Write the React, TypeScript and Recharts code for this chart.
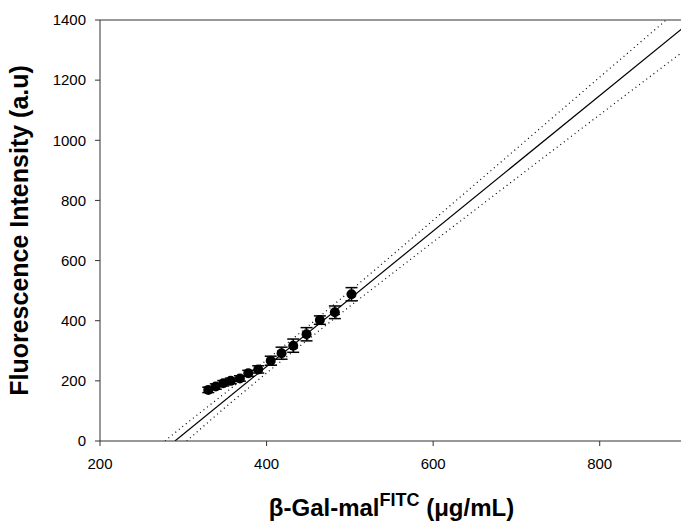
import { ComposedChart, Scatter, Line, XAxis, YAxis, ErrorBar, ReferenceLine, Label } from "recharts";

// measured points (mean ± error)
const concentration = [330, 339, 348, 357, 368, 378, 390, 405, 418, 432, 448, 464, 482, 502];
const intensity = [170, 181, 192, 200, 208, 225, 238, 267, 292, 317, 355, 402, 428, 488];
const intensityErr = [9, 9, 9, 9, 9, 10, 12, 15, 20, 22, 22, 14, 21, 22];

// regression line and its dotted confidence band
const fitX = [290, 900];
const fitY = [0, 1374];
const upperX = [278, 300, 350, 400, 450, 500, 600, 700, 800, 900];
const upperY = [0, 50, 159, 269, 382, 498, 734, 972, 1210, 1448];
const lowerX = [304, 350, 400, 450, 500, 600, 700, 800, 900];
const lowerY = [0, 111, 226, 338, 448, 662, 874, 1085, 1295];

const xTicks = [200, 400, 600, 800];
const yTicks = [0, 200, 400, 600, 800, 1000, 1200, 1400];

const FONT = "'Liberation Sans', Arial, sans-serif";
const AXIS = "#333";

const points = concentration.map((x, i) => ({ x, y: intensity[i], err: intensityErr[i] }));
const fit = fitX.map((x, i) => ({ x, y: fitY[i] }));
const upper = upperX.map((x, i) => ({ x, y: upperY[i] }));
const lower = lowerX.map((x, i) => ({ x, y: lowerY[i] }));

const Dot = (props: any) => <circle cx={props.cx} cy={props.cy} r={5} fill="#000" />;

const XTitle = (props: any) => {
  const vb = props.viewBox || { x: 100, y: 441, width: 583, height: 81 };
  const cx = vb.x + vb.width / 2;
  return (
    <text x={cx} y={vb.y + 75} textAnchor="middle" fontFamily={FONT} fontWeight="bold" fontSize={24} fill="#000" style={{ whiteSpace: "pre" }}>
      <tspan>β-Gal-mal</tspan>
      <tspan dy={-10} fontSize={18}>FITC</tspan>
      <tspan dy={10}> (μg/mL)</tspan>
    </text>
  );
};

const YTitle = (props: any) => {
  const vb = props.viewBox || { x: 0, y: 20, width: 100, height: 421 };
  const cy = vb.y + vb.height / 2;
  const cx = 19;
  return (
    <text x={cx} y={cy} transform={`rotate(-90 ${cx} ${cy})`} textAnchor="middle" dominantBaseline="central" fontFamily={FONT} fontWeight="bold" fontSize={25} fill="#000">
      Fluorescence Intensity (a.u)
    </text>
  );
};

export default function App() {
  return (
    <div style={{ position: "fixed", left: 0, top: 0, width: 681, height: 522, overflow: "hidden", background: "#fff" }}>
      <ComposedChart width={690} height={522} margin={{ top: 20, right: 7, bottom: 0, left: 0 }}>
        <XAxis
          type="number"
          dataKey="x"
          domain={[200, 900]}
          ticks={xTicks}
          allowDataOverflow
          height={81}
          stroke={AXIS}
          tickSize={5}
          tickMargin={12}
          tick={{ fill: "#000", fontSize: 15, fontFamily: FONT }}
        >
          <Label content={<XTitle />} />
        </XAxis>
        <YAxis
          type="number"
          dataKey="y"
          domain={[0, 1400]}
          ticks={yTicks}
          allowDataOverflow
          width={100}
          stroke={AXIS}
          tickSize={5}
          tickMargin={9}
          tick={{ fill: "#000", fontSize: 15, fontFamily: FONT }}
        >
          <Label content={<YTitle />} />
        </YAxis>
        <ReferenceLine y={1400} stroke={AXIS} />
        <Line data={upper} dataKey="y" type="linear" stroke="#000" strokeWidth={1.2} strokeDasharray="1 3.5" dot={false} isAnimationActive={false} />
        <Line data={lower} dataKey="y" type="linear" stroke="#000" strokeWidth={1.2} strokeDasharray="1 3.5" dot={false} isAnimationActive={false} />
        <Line data={fit} dataKey="y" type="linear" stroke="#000" strokeWidth={1.2} dot={false} isAnimationActive={false} />
        <Scatter data={points} dataKey="y" fill="#000" shape={<Dot />} isAnimationActive={false}>
          <ErrorBar dataKey="err" direction="y" width={6} stroke="#000" strokeWidth={1.5} />
        </Scatter>
      </ComposedChart>
    </div>
  );
}
